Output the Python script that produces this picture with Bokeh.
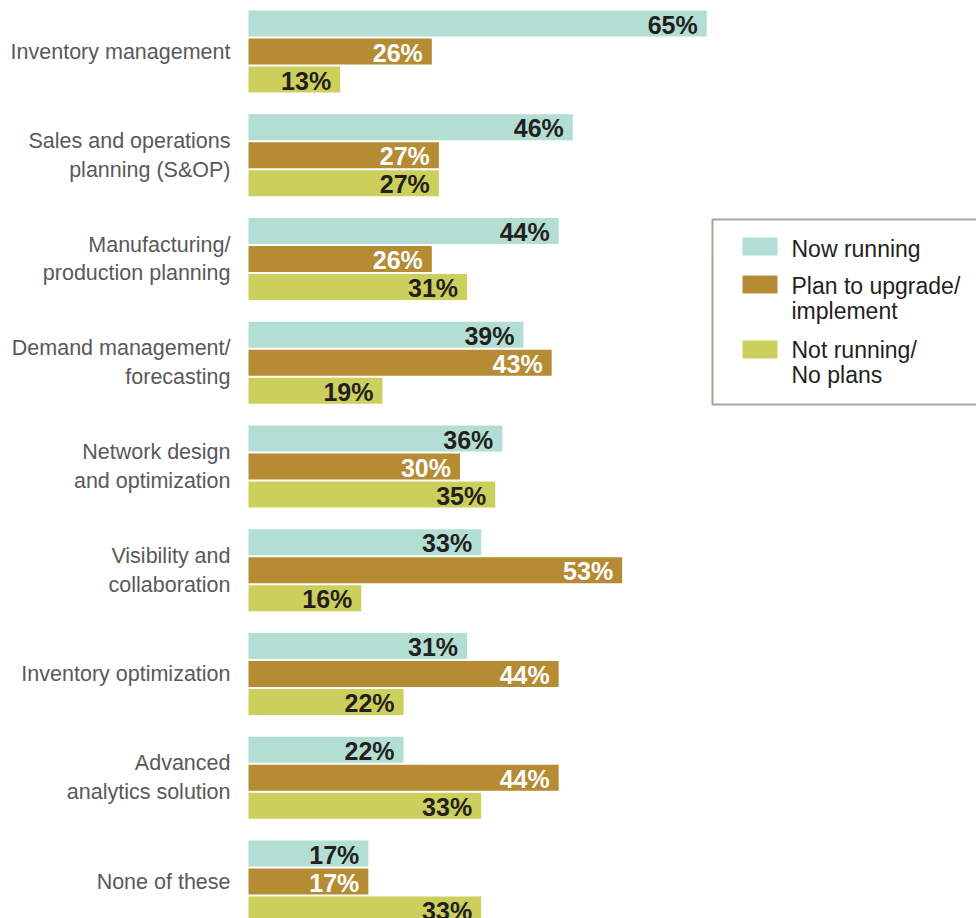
from bokeh.plotting import figure
from bokeh.models import ColumnDataSource, Range1d, BoxAnnotation, Label
from bokeh.transform import dodge
from bokeh.core.properties import value
from bokeh.embed import file_html
from bokeh.resources import INLINE

categories = [
    "Inventory management",
    "Sales and operations\nplanning (S&OP)",
    "Manufacturing/\nproduction planning",
    "Demand management/\nforecasting",
    "Network design\nand optimization",
    "Visibility and\ncollaboration",
    "Inventory optimization",
    "Advanced\nanalytics solution",
    "None of these",
]
now_running = [65, 46, 44, 39, 36, 33, 31, 22, 17]
plan_upgrade = [26, 27, 26, 43, 30, 53, 44, 44, 17]
not_running = [13, 27, 31, 19, 35, 16, 22, 33, 33]
series_names = [["Now running"], ["Plan to upgrade/", "implement"], ["Not running/", "No plans"]]
series_colors = ["#b2ded4", "#b58b34", "#cccf5b"]
label_colors = ["#231f20", "#ffffff", "#231f20"]

FONT = "Liberation Sans"
W, H = 976, 918
PX_PER_PCT = 7.05
PX_PER_GROUP = 103.75
LEFT_PX = 248
TOP_PX = 51

src = ColumnDataSource(dict(
    y=list(range(len(categories))),
    cat=categories,
    now=now_running,
    plan=plan_upgrade,
    notr=not_running,
    now_l=[f"{v}%" for v in now_running],
    plan_l=[f"{v}%" for v in plan_upgrade],
    notr_l=[f"{v}%" for v in not_running],
))

x0 = -LEFT_PX / PX_PER_PCT
x1 = x0 + W / PX_PER_PCT
ytop = -TOP_PX / PX_PER_GROUP
ybot = ytop + H / PX_PER_GROUP

p = figure(width=W, height=H, output_backend="svg", toolbar_location=None,
           x_range=Range1d(x0, x1), y_range=Range1d(ybot, ytop),
           min_border=0, outline_line_color=None, background_fill_color="white",
           border_fill_color="white")
p.axis.visible = False
p.grid.visible = False

off = 28 / PX_PER_GROUP
bh = 26 / PX_PER_GROUP
cols = ["now", "plan", "notr"]
offsets = [-off, 0, off]
for c, o, col, lc in zip(cols, offsets, series_colors, label_colors):
    p.hbar(y=dodge("y", o, range=p.y_range), right=c, left=0, height=bh,
           fill_color=col, line_color=None, source=src)
    p.text(x=c, y=dodge("y", o, range=p.y_range), text=c + "_l", source=src,
           text_align="right", text_baseline="middle", x_offset=-9, y_offset=1,
           text_font=value(FONT), text_font_style="bold", text_font_size="25px",
           text_color=lc)

p.text(x=0, y="y", text="cat", source=src, x_offset=-18,
       text_align="right", text_baseline="middle", text_font=value(FONT),
       text_font_size="21.5px", text_color="#595959", text_line_height=1.2)

# legend (manual, screen units measured from the bottom of the frame)
def sy(page_y):
    return H - page_y

frame = BoxAnnotation(left=712, right=W + 20, top=sy(219), bottom=sy(404),
                      left_units="screen", right_units="screen",
                      top_units="screen", bottom_units="screen",
                      fill_color="white", fill_alpha=1,
                      line_color="#a8a496", line_alpha=1, line_width=2)
p.add_layout(frame)

sw_tops = [237, 275, 340]
line_baselines = [[248], [285, 310.5], [349, 374]]
for names, col, top, bases in zip(series_names, series_colors, sw_tops, line_baselines):
    p.add_layout(BoxAnnotation(left=742, right=777, top=sy(top), bottom=sy(top + 18),
                               left_units="screen", right_units="screen",
                               top_units="screen", bottom_units="screen",
                               fill_color=col, fill_alpha=1, line_color=None))
    for name, b in zip(names, bases):
        p.add_layout(Label(x=791, y=sy(b), x_units="screen", y_units="screen",
                           text=name, text_font=FONT, text_font_size="23px",
                           text_color="#231f20", text_baseline="alphabetic",
                           text_align="left"))

open("out.html", "w").write(file_html(p, INLINE))
